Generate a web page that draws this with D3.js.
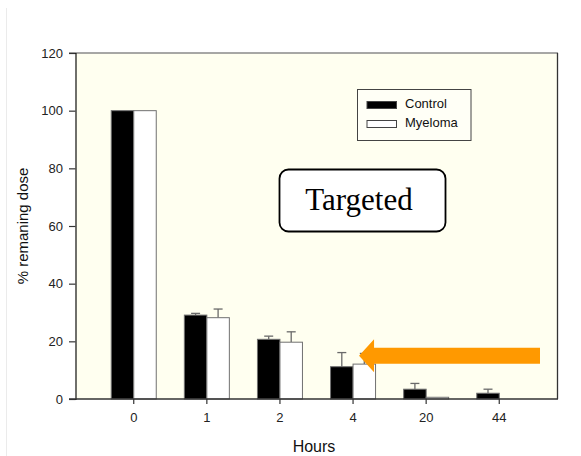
<!DOCTYPE html>
<html>
<head>
<meta charset="utf-8">
<script src="https://cdn.jsdelivr.net/npm/d3@7"></script>
<style>
  html, body { margin: 0; padding: 0; background: #ffffff; }
  svg { display: block; }
</style>
</head>
<body>
<svg id="chart" width="581" height="456"></svg>
<script>
// Remaining dose over time, control vs myeloma
const hours = ["0", "1", "2", "4", "20", "44"];
const seriesNames = ["Control", "Myeloma"];
const controlValues = [100, 29.1, 20.7, 11.2, 3.4, 2.0];
const myelomaValues = [100, 28.2, 19.7, 12.1, 0.6, 0];
const controlErrors = [0, 0.6, 1.1, 4.9, 2.0, 1.4];
const myelomaErrors = [0, 3.0, 3.6, 3.7, 0, 0];
const yTicks = [0, 20, 40, 60, 80, 100, 120];

const svg = d3.select("#chart");
const plot = { left: 75.5, right: 557.5, top: 53, bottom: 399 };
const sans = "Arial, 'Liberation Sans', sans-serif";

const x = d3.scaleBand()
  .domain(hours)
  .range([plot.left, plot.right])
  .paddingInner(0.3844)
  .paddingOuter(0.489);

const xSub = d3.scaleBand()
  .domain(seriesNames)
  .range([0, x.bandwidth()]);

const y = d3.scaleLinear().domain([0, 120]).range([plot.bottom, plot.top]);

const rows = hours.map((h, i) => ({
  hour: h,
  values: [
    { series: "Control", value: controlValues[i], err: controlErrors[i] },
    { series: "Myeloma", value: myelomaValues[i], err: myelomaErrors[i] }
  ]
}));

// faint page edge on the left
svg.append("line")
  .attr("x1", 6.5).attr("x2", 6.5).attr("y1", 8).attr("y2", 456)
  .attr("stroke", "#ebebeb").attr("stroke-width", 1);

// plot background
svg.append("rect")
  .attr("x", plot.left).attr("y", plot.top)
  .attr("width", plot.right - plot.left).attr("height", plot.bottom - plot.top)
  .attr("fill", "#fffff0");

// bars with upward error bars
const groups = svg.append("g").selectAll("g")
  .data(rows).join("g")
  .attr("transform", d => `translate(${x(d.hour)},0)`);

groups.selectAll("g.err")
  .data(d => d.values.filter(v => v.err > 0))
  .join("g")
  .attr("class", "err")
  .each(function (v) {
    const g = d3.select(this);
    const cx = xSub(v.series) + xSub.bandwidth() / 2;
    g.append("line")
      .attr("x1", cx).attr("x2", cx)
      .attr("y1", y(v.value)).attr("y2", y(v.value + v.err))
      .attr("stroke", "#6a6a6a").attr("stroke-width", 1.3);
    g.append("line")
      .attr("x1", cx - 4.5).attr("x2", cx + 4.5)
      .attr("y1", y(v.value + v.err)).attr("y2", y(v.value + v.err))
      .attr("stroke", "#6a6a6a").attr("stroke-width", 1.3);
  });

groups.selectAll("rect")
  .data(d => d.values)
  .join("rect")
  .attr("x", v => xSub(v.series))
  .attr("y", v => y(v.value))
  .attr("width", xSub.bandwidth())
  .attr("height", v => y(0) - y(v.value))
  .attr("fill", v => v.series === "Control" ? "#000000" : "#ffffff")
  .attr("stroke", "#707070")
  .attr("stroke-width", 1);

// frame: top and right edges
svg.append("line")
  .attr("x1", 69).attr("x2", plot.right + 0.5).attr("y1", plot.top).attr("y2", plot.top)
  .attr("stroke", "#8a8a8a").attr("stroke-width", 1.6);
svg.append("line")
  .attr("x1", plot.right).attr("x2", plot.right).attr("y1", plot.top).attr("y2", plot.bottom)
  .attr("stroke", "#333333").attr("stroke-width", 1.3);

// y axis
const yAxis = d3.axisLeft(y).tickValues(yTicks).tickSize(6.5).tickPadding(6);
const gy = svg.append("g").attr("transform", `translate(${plot.left},0)`).call(yAxis);
gy.select(".domain").attr("stroke", "#111").attr("stroke-width", 1.2);
gy.selectAll(".tick line").attr("stroke", "#333").attr("stroke-width", 1.2);
gy.selectAll(".tick text")
  .attr("font-family", sans)
  .attr("font-size", 13).attr("fill", "#222");

// x axis
const xAxis = d3.axisBottom(x).tickSize(5).tickPadding(9).tickSizeOuter(0);
const gx = svg.append("g").attr("transform", `translate(0,${plot.bottom})`).call(xAxis);
gx.select(".domain").remove();
gx.append("line")
  .attr("x1", 69).attr("x2", plot.right + 0.5).attr("y1", 0).attr("y2", 0)
  .attr("stroke", "#333").attr("stroke-width", 1.3);
gx.selectAll(".tick line").attr("stroke", "#333").attr("stroke-width", 1.2);
gx.selectAll(".tick text")
  .attr("font-family", sans)
  .attr("font-size", 13).attr("fill", "#222");

// axis titles
svg.append("text")
  .attr("x", 314).attr("y", 452)
  .attr("text-anchor", "middle")
  .attr("font-family", sans)
  .attr("font-size", 16).attr("fill", "#111")
  .text("Hours");

svg.append("text")
  .attr("transform", "translate(24,226) rotate(-90)")
  .attr("text-anchor", "middle")
  .attr("dominant-baseline", "middle")
  .attr("font-family", sans)
  .attr("font-size", 15).attr("fill", "#111")
  .text("% remaning dose");

// legend
const legend = svg.append("g").attr("transform", "translate(357.5,89.5)");
legend.append("rect")
  .attr("width", 113.5).attr("height", 51)
  .attr("fill", "#fffff6").attr("stroke", "#444").attr("stroke-width", 1);
seriesNames.forEach((name, i) => {
  const row = legend.append("g").attr("transform", `translate(9.5,${12 + i * 19})`);
  row.append("rect")
    .attr("width", 29.5).attr("height", 7)
    .attr("fill", name === "Control" ? "#000" : "#fff")
    .attr("stroke", "#444").attr("stroke-width", 1);
  row.append("text")
    .attr("x", 38).attr("y", 3.5)
    .attr("dominant-baseline", "middle")
    .attr("font-family", sans)
    .attr("font-size", 13).attr("fill", "#111")
    .text(name);
});

// "Targeted" label box
svg.append("rect")
  .attr("x", 279.5).attr("y", 169.5).attr("width", 166).attr("height", 62)
  .attr("rx", 9).attr("ry", 9)
  .attr("fill", "#ffffff").attr("stroke", "#000").attr("stroke-width", 1.8);
svg.append("text")
  .attr("x", 359).attr("y", 210)
  .attr("text-anchor", "middle")
  .attr("font-family", "'Times New Roman', 'Liberation Serif', serif")
  .attr("font-size", 31).attr("fill", "#000")
  .text("Targeted");

// orange arrow pointing at the 4-hour myeloma bar
const tipX = x("4") + xSub("Myeloma") + 6;
const tipY = y(15);
const headLen = 15, headHalf = 16.5, shaftHalf = 8, tailX = 540;
const arrowPts = [
  [tipX, tipY],
  [tipX + headLen, tipY - headHalf],
  [tipX + headLen, tipY - shaftHalf],
  [tailX, tipY - shaftHalf],
  [tailX, tipY + shaftHalf],
  [tipX + headLen, tipY + shaftHalf],
  [tipX + headLen, tipY + headHalf]
];
svg.append("polygon")
  .attr("points", arrowPts.map(p => p.join(",")).join(" "))
  .attr("fill", "#ff9900");
</script>
</body>
</html>
